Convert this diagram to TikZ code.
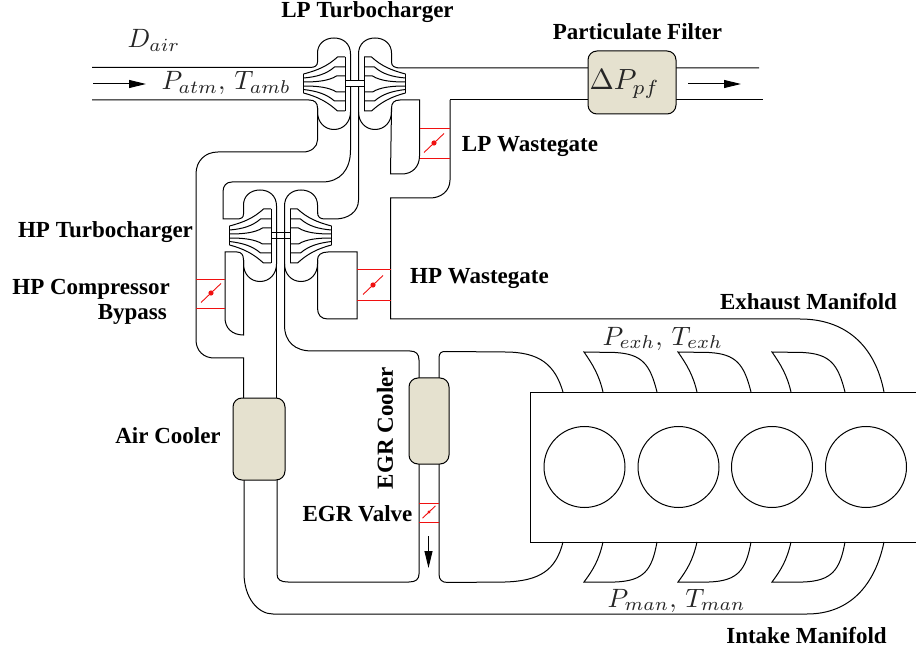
\documentclass[tikz,border=0pt]{standalone}
\usepackage{fontspec}
\usepackage{tikz}
\usetikzlibrary{arrows.meta}
\newfontfamily\labelfont{Liberation Serif}
\definecolor{coolerfill}{HTML}{E5E1CF}
\definecolor{valvered}{HTML}{F01010}

\tikzset{
    pipe/.style = {line width=1pt, black},
    valveline/.style = {line width=0.9pt, valvered},
    cooler/.style = {draw=black, line width=1pt, fill=coolerfill, rounded corners=9pt, inner sep=0pt},
    textlabel/.style = {font=\labelfont\bfseries\fontsize{23}{25.5}\selectfont, inner sep=0pt},
    mathlabel/.style = {scale=2.65, inner sep=0pt, anchor=base west, black!85},
    flowarrow/.style = {line width=1pt, -{Stealth[length=17pt, width=8pt, inset=0pt]}},
    % one half of a turbocharger, drawn around the shaft centre
    impeller/.pic = {
        \draw[pipe] (-4,-30) .. controls (-4,-40) and (-11,-46) .. (-20.5,-46)
        .. controls (-30,-46) and (-37,-40) .. (-37,-31) -- (-37,-22);
        \draw[pipe] (-37,24) -- (-37,28) .. controls (-37,38) and (-30,45.5) .. (-20.5,45.5)
        .. controls (-11,45.5) and (-4,38) .. (-4,28) -- (-4,-30);
        \draw[pipe] (-9.5,-27) -- (-9.5,27);
        \draw[pipe] (-51,-10) -- (-51,9);
        \draw[pipe] (-9.5,-27) -- (-17,-27) .. controls (-27,-18) and (-36,-14) .. (-51,-10);
        \draw[pipe] (-9.5,-17) -- (-20,-17) .. controls (-28,-10) and (-38,-7) .. (-51,-6);
        \draw[pipe] (-9.5,-8) -- (-18,-8) .. controls (-26,-3) and (-38,-2) .. (-51,-2);
        \draw[pipe] (-9.5,8) -- (-18,8) .. controls (-26,3) and (-38,2) .. (-51,2);
        \draw[pipe] (-9.5,17) -- (-20,17) .. controls (-28,10) and (-38,7) .. (-51,5.5);
        \draw[pipe] (-9.5,27) -- (-17,27) .. controls (-27,18) and (-36,13) .. (-51,9);
    },
    % butterfly flap of a valve
    butterfly/.pic = {
        \draw[valveline] (-10,9.5) -- (10,-9.5);
        \fill[valvered] (0,0) circle (2.6);
    },
}

\begin{document}
\begin{tikzpicture}[x=1pt, y=-1pt]

    %% Background
    \useasboundingbox (0,0) rectangle (916,652);

    % Shaft centres
    \coordinate (lp) at (354.5,84);
    \coordinate (hp) at (280.5,236);

    % Turbochargers
    \pic at (lp) {impeller};
    \pic[xscale=-1] at (lp) {impeller};
    \pic at (hp) {impeller};
    \pic[xscale=-1] at (hp) {impeller};
    \draw[pipe, fill=white] (345,81) rectangle (364,87);
    \draw[pipe] (271,233) rectangle (290,239);

    % Inlet and air path
    \draw[pipe] (92,67.5) -- (310,67.5) .. controls (315,67.5) and (317.5,65.5) .. (317.5,62);
    \draw[pipe] (92,100) -- (309,100) .. controls (315,100) and (317.5,103) .. (317.5,108)
    -- (317.5,140) .. controls (317.5,147) and (311,152) .. (303,152)
    -- (218,152) .. controls (205,152) and (196,161) .. (196,174)
    -- (196,340) .. controls (196,351) and (204,358) .. (214,358)
    -- (243.5,358) -- (243.5,400);
    \draw[pipe] (350.5,112) -- (350.5,150) .. controls (350.5,170) and (340,182) .. (322,182)
    -- (232,182) .. controls (226,182) and (223,186) .. (223,192)
    -- (223,219) -- (236,219) .. controls (241,219) and (243.5,218) .. (243.5,214);
    \draw[pipe] (276.5,264) -- (276.5,400);

    % Exhaust path
    \draw[pipe] (391.5,62) .. controls (391.5,66) and (394,68) .. (401,68) -- (759,68);
    \draw[pipe] (450,100) -- (763,100);
    \draw[pipe] (450,100) -- (450,180) .. controls (450,191) and (441,198) .. (430,198)
    -- (390.5,198) -- (390.5,319) -- (800,319)
    .. controls (845,319) and (875,345) .. (884,392);
    \draw[pipe] (358.5,112) -- (358.5,200) .. controls (358.5,212) and (348,219) .. (335,219)
    -- (325,219) .. controls (320,219) and (317.5,217) .. (317.5,212);

    % Wastegate and bypass channels
    \draw[pipe] (391.5,108) .. controls (391.5,103) and (394,100) .. (400,100)
    -- (419.5,100) -- (419.5,156) .. controls (419.5,167) and (412,174) .. (402,174)
    -- (390.5,174) -- cycle;
    \draw[pipe] (317.5,260) .. controls (317.5,255) and (321,252) .. (328,252)
    -- (357,252) -- (357,319) -- (328,319) .. controls (321,319) and (317.5,315) .. (317.5,308) -- cycle;
    \draw[pipe] (225,252) -- (237,252) .. controls (241.5,252) and (243.5,255) .. (243.5,260)
    -- (243.5,335) .. controls (232,335) and (225,328) .. (225,318) -- cycle;

    % EGR path
    \draw[pipe] (284.5,264) -- (284.5,325) .. controls (284.5,342) and (295,351) .. (312,351)
    -- (410,351) .. controls (416,351) and (419,354) .. (419,360) -- (419,380);
    \draw[pipe] (439,380) -- (439,358) .. controls (439,353) and (441,351) .. (447,351.5)
    -- (505,352) .. controls (540,352) and (555,365) .. (563,392);

    % Intake path
    \draw[pipe] (244,480) -- (244,573) .. controls (244,598) and (258,614) .. (273,614)
    -- (807,614) .. controls (850,614) and (875,585) .. (884,542);
    \draw[pipe] (277,478) -- (277,574) .. controls (277,580) and (281,582) .. (288,582)
    -- (409,582) .. controls (416,582) and (419,579) .. (419,574) -- (419,462);
    \draw[pipe] (439,462) -- (439,574) .. controls (439,580) and (442,582.5) .. (448,582.5)
    -- (505,582) .. controls (540,581) and (556,570) .. (563,542);

    % Engine block
    \draw[pipe] (916,392) -- (530,392) -- (530,542) -- (916,542);
    \draw[pipe] (584.5,467) circle (40.5);
    \draw[pipe] (678.5,467) circle (40.5);
    \draw[pipe] (772,467) circle (40.5);
    \draw[pipe] (866,467) circle (40.5);

    % Runners
    \draw[pipe] (603,392) .. controls (599,375) and (593,365) .. (584,352)
    -- (615,352.5) .. controls (642,354) and (650,364) .. (657,392);
    \draw[pipe] (697,392) .. controls (693,375) and (687,365) .. (678,352)
    -- (709,352.5) .. controls (736,354) and (744,364) .. (751,392);
    \draw[pipe] (791,392) .. controls (787,375) and (781,365) .. (772,352)
    -- (803,352.5) .. controls (830,354) and (838,364) .. (845,392);
    \draw[pipe] (603,542) .. controls (599,560) and (593,570) .. (584,582)
    -- (615,582) .. controls (644,581) and (652,570) .. (657,542);
    \draw[pipe] (697,542) .. controls (693,560) and (687,570) .. (678,582)
    -- (709,582) .. controls (738,581) and (746,570) .. (751,542);
    \draw[pipe] (791,542) .. controls (787,560) and (781,570) .. (772,582)
    -- (803,582) .. controls (832,581) and (840,570) .. (845,542);

    % Valves
    \draw[valveline] (419.5,128) -- (450,128) (419.5,158) -- (450,158);
    \pic at (434,143) {butterfly};
    \draw[valveline] (357,269) -- (390.5,269) (357,300) -- (390.5,300);
    \pic at (373,285) {butterfly};
    \draw[valveline] (196,279) -- (225,279) (196,308) -- (225,308);
    \pic at (211,293) {butterfly};
    \draw[valveline] (419,503) -- (439,503) (419,522) -- (439,522);
    \pic[scale=0.65] at (429,512) {butterfly};

    % Coolers and filter
    \node[cooler, minimum width=88pt, minimum height=63pt] (filter) at (632,82.5) {};
    \node[cooler, minimum width=52pt, minimum height=82pt] (aircooler) at (259,439) {};
    \node[cooler, minimum width=40pt, minimum height=86pt] (egrcooler) at (429,421) {};

    % Flow arrows
    \coordinate (inA) at (93,84);
    \coordinate (inB) at (146,84);
    \coordinate (outA) at (688,84);
    \coordinate (outB) at (741,84);
    \coordinate (egrA) at (428.5,536);
    \coordinate (egrB) at (428.5,568);
    \draw[flowarrow] (inA) -- (inB);
    \draw[flowarrow] (outA) -- (outB);
    \draw[flowarrow] (egrA) -- (egrB);

    % Quantities
    \node[mathlabel] (dair) at (127,48) {\(D_{air}\)};
    \node[mathlabel] (patm) at (161,90) {\(P_{atm},\,T_{amb}\)};
    \node[mathlabel, scale=1.1] (dppf) at (589,90) {\(\Delta P_{pf}\)};
    \node[mathlabel] (pexh) at (602,345) {\(P_{exh},\,T_{exh}\)};
    \node[mathlabel] (pman) at (607,607) {\(P_{man},\,T_{man}\)};

    % Component names
    \node[textlabel] (lpturbo) at (367.5,12) {LP Turbocharger};
    \node[textlabel] (pfname) at (637.5,32) {Particulate Filter};
    \node[textlabel] (lpgate) at (530,147) {LP Wastegate};
    \node[textlabel] (hpturbo) at (105.5,232) {HP Turbocharger};
    \node[textlabel, align=right, anchor=north east] (hpbypass) at (170,279) {HP Compressor\\Bypass\hspace*{3pt}};
    \node[textlabel] (hpgate) at (479.5,279) {HP Wastegate};
    \node[textlabel] (exhname) at (808.5,302) {Exhaust Manifold};
    \node[textlabel] (intname) at (806.5,636) {Intake Manifold};
    \node[textlabel] (airname) at (168,436) {Air Cooler};
    \node[textlabel] (valvename) at (357.5,514) {EGR Valve};
    \node[textlabel, rotate=90] (egrname) at (385,428) {EGR Cooler};

\end{tikzpicture}
\end{document}
